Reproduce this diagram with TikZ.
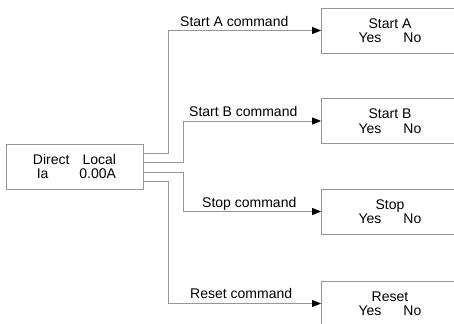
\documentclass[tikz,border=0pt]{standalone}
\usepackage{fontspec}
\setmainfont{Liberation Sans}
\usetikzlibrary{arrows.meta}
\definecolor{wire}{RGB}{150,150,150}
\begin{document}
\begin{tikzpicture}[x=1bp,y=-1bp,
  every node/.style={font=\fontsize{14bp}{14.5bp}\selectfont},
  panel/.style={draw=wire, line width=0.8bp, minimum width=137bp,
    minimum height=45bp, inner sep=0pt, align=center},
  cmd/.style={anchor=base west, inner sep=0pt},
  link/.style={draw=wire, line width=0.8bp,
    -{Triangle[length=9bp,width=7bp,black]}}]
\useasboundingbox (0,0) rectangle (454,323);
\clip (0,0) rectangle (454,323);

% local display and the four confirmation screens
\node[panel, align=right] (main) at (74.5,166.5)
  {Direct\hspace{13bp}Local\\Ia\hspace{31bp}0.00A};
\node[panel] (sa) at (390,30.5)  {Start A\\Yes\hspace{22bp}No};
\node[panel] (sb) at (390,121)   {Start B\\Yes\hspace{22bp}No};
\node[panel] (st) at (390,211.5) {Stop\\Yes\hspace{22bp}No};
\node[panel] (rs) at (390,303.5) {Reset\\Yes\hspace{22bp}No};

% command labels
\node[cmd] (la) at (180,26)    {Start A command};
\node[cmd] (lb) at (189,116.5) {Start B command};
\node[cmd] (ls) at (202,207)   {Stop command};
\node[cmd] (lr) at (190,298)   {Reset command};

% command paths
\draw[link] (main.east |- 0,153) -- (168,153) |- (sa);
\draw[link] (main.east |- 0,162) -- (183,162) |- (sb);
\draw[link] (main.east |- 0,172) -- (183,172) |- (st);
\draw[link] (main.east |- 0,181) -- (168,181) |- (rs);
\end{tikzpicture}
\end{document}
